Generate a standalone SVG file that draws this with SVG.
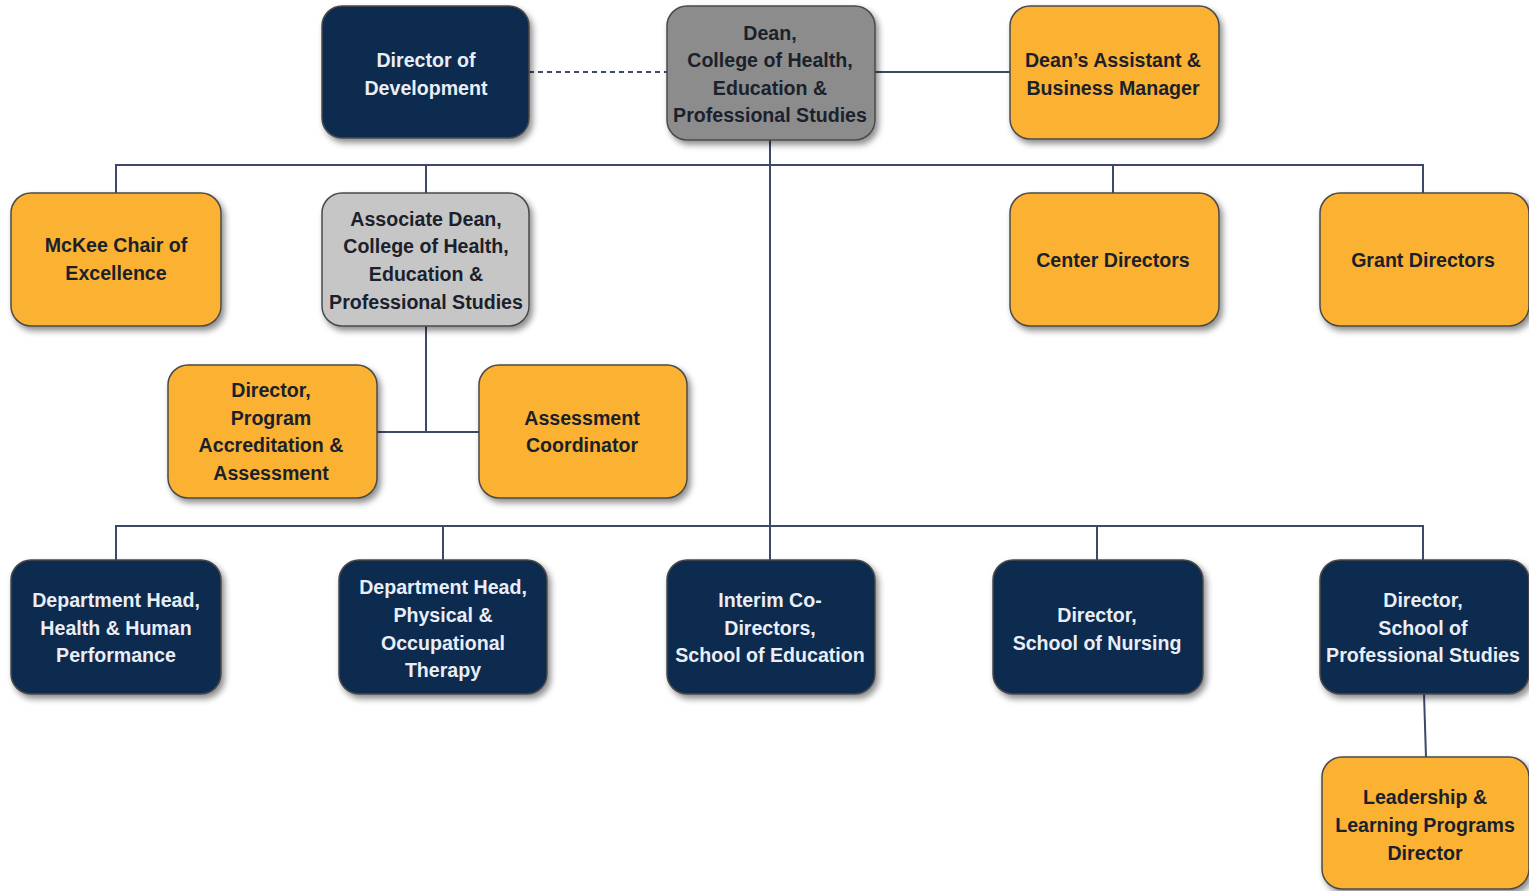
<svg xmlns="http://www.w3.org/2000/svg" width="1529" height="891" viewBox="0 0 1529 891">
  <style>
    .box { stroke: #4a4a4a; stroke-width: 1.5; filter: url(#shadow); }
    .navy { fill: #102a4f; }
    .gold { fill: #fbb233; }
    .dean { fill: #8c8c8c; }
    .assoc { fill: #c6c6c6; }
    .lbl { font-family: "Liberation Sans", Arial, sans-serif; font-weight: bold; font-size: 19.6px; text-anchor: middle; }
    .dark { fill: #1a212c; }
    .light { fill: #e9eef6; }
    .conn { stroke: #3d4a66; stroke-width: 2; fill: none; }
    .dash { stroke-dasharray: 5 4; }
  </style>
  <defs>
    <filter id="shadow" x="-10%" y="-10%" width="125%" height="130%">
      <feDropShadow dx="3" dy="4" stdDeviation="3" flood-color="#000" flood-opacity="0.45"/>
    </filter>
  </defs>
  <rect width="1529" height="891" fill="#ffffff"/>

  <!-- reporting lines -->
  <g id="connectors">
    <line class="conn dash" x1="529" y1="72" x2="667" y2="72"/>
    <line class="conn" x1="875" y1="72" x2="1010" y2="72"/>
    <path class="conn" d="M116 193 V165 H1423 V193 M426 165 V193 M1113 165 V193"/>
    <line class="conn" x1="770" y1="140" x2="770" y2="560"/>
    <path class="conn" d="M426 326 V432 M377 432 H479"/>
    <path class="conn" d="M116 560 V526 H1423 V560 M443 526 V560 M770 526 V560 M1097 526 V560"/>
    <line class="conn" x1="1424" y1="694" x2="1426" y2="757"/>
  </g>

  <g id="director-development">
    <rect class="box navy" x="322" y="6" width="207" height="132" rx="20"/>
    <text class="lbl light"><tspan x="426" y="67">Director of</tspan><tspan x="426" y="95">Development</tspan></text>
  </g>
  <g id="dean">
    <rect class="box dean" x="667" y="6" width="208" height="134" rx="20"/>
    <text class="lbl dark"><tspan x="770" y="40">Dean,</tspan><tspan x="770" y="67">College of Health,</tspan><tspan x="770" y="95">Education &amp;</tspan><tspan x="770" y="122">Professional Studies</tspan></text>
  </g>
  <g id="deans-assistant">
    <rect class="box gold" x="1010" y="6" width="209" height="133" rx="20"/>
    <text class="lbl dark"><tspan x="1113" y="67">Dean’s Assistant &amp;</tspan><tspan x="1113" y="95">Business Manager</tspan></text>
  </g>
  <g id="mckee-chair">
    <rect class="box gold" x="11" y="193" width="210" height="133" rx="20"/>
    <text class="lbl dark"><tspan x="116" y="252">McKee Chair of</tspan><tspan x="116" y="280">Excellence</tspan></text>
  </g>
  <g id="associate-dean">
    <rect class="box assoc" x="322" y="193" width="207" height="133" rx="20"/>
    <text class="lbl dark"><tspan x="426" y="226">Associate Dean,</tspan><tspan x="426" y="253">College of Health,</tspan><tspan x="426" y="281">Education &amp;</tspan><tspan x="426" y="309">Professional Studies</tspan></text>
  </g>
  <g id="center-directors">
    <rect class="box gold" x="1010" y="193" width="209" height="133" rx="20"/>
    <text class="lbl dark" x="1113" y="267">Center Directors</text>
  </g>
  <g id="grant-directors">
    <rect class="box gold" x="1320" y="193" width="209" height="133" rx="20"/>
    <text class="lbl dark" x="1423" y="267">Grant Directors</text>
  </g>
  <g id="program-accreditation">
    <rect class="box gold" x="168" y="365" width="209" height="133" rx="20"/>
    <text class="lbl dark"><tspan x="271" y="397">Director,</tspan><tspan x="271" y="425">Program</tspan><tspan x="271" y="452">Accreditation &amp;</tspan><tspan x="271" y="480">Assessment</tspan></text>
  </g>
  <g id="assessment-coordinator">
    <rect class="box gold" x="479" y="365" width="208" height="133" rx="20"/>
    <text class="lbl dark"><tspan x="582" y="425">Assessment</tspan><tspan x="582" y="452">Coordinator</tspan></text>
  </g>
  <g id="dept-health-human-performance">
    <rect class="box navy" x="11" y="560" width="210" height="134" rx="20"/>
    <text class="lbl light"><tspan x="116" y="607">Department Head,</tspan><tspan x="116" y="635">Health &amp; Human</tspan><tspan x="116" y="662">Performance</tspan></text>
  </g>
  <g id="dept-physical-occupational">
    <rect class="box navy" x="339" y="560" width="208" height="134" rx="20"/>
    <text class="lbl light"><tspan x="443" y="594">Department Head,</tspan><tspan x="443" y="622">Physical &amp;</tspan><tspan x="443" y="650">Occupational</tspan><tspan x="443" y="677">Therapy</tspan></text>
  </g>
  <g id="school-of-education">
    <rect class="box navy" x="667" y="560" width="208" height="134" rx="20"/>
    <text class="lbl light"><tspan x="770" y="607">Interim Co-</tspan><tspan x="770" y="635">Directors,</tspan><tspan x="770" y="662">School of Education</tspan></text>
  </g>
  <g id="school-of-nursing">
    <rect class="box navy" x="993" y="560" width="210" height="134" rx="20"/>
    <text class="lbl light"><tspan x="1097" y="622">Director,</tspan><tspan x="1097" y="650">School of Nursing</tspan></text>
  </g>
  <g id="school-of-professional-studies">
    <rect class="box navy" x="1320" y="560" width="209" height="134" rx="20"/>
    <text class="lbl light"><tspan x="1423" y="607">Director,</tspan><tspan x="1423" y="635">School of</tspan><tspan x="1423" y="662">Professional Studies</tspan></text>
  </g>
  <g id="leadership-learning">
    <rect class="box gold" x="1322" y="757" width="207" height="132" rx="20"/>
    <text class="lbl dark"><tspan x="1425" y="804">Leadership &amp;</tspan><tspan x="1425" y="832">Learning Programs</tspan><tspan x="1425" y="860">Director</tspan></text>
  </g>
</svg>
